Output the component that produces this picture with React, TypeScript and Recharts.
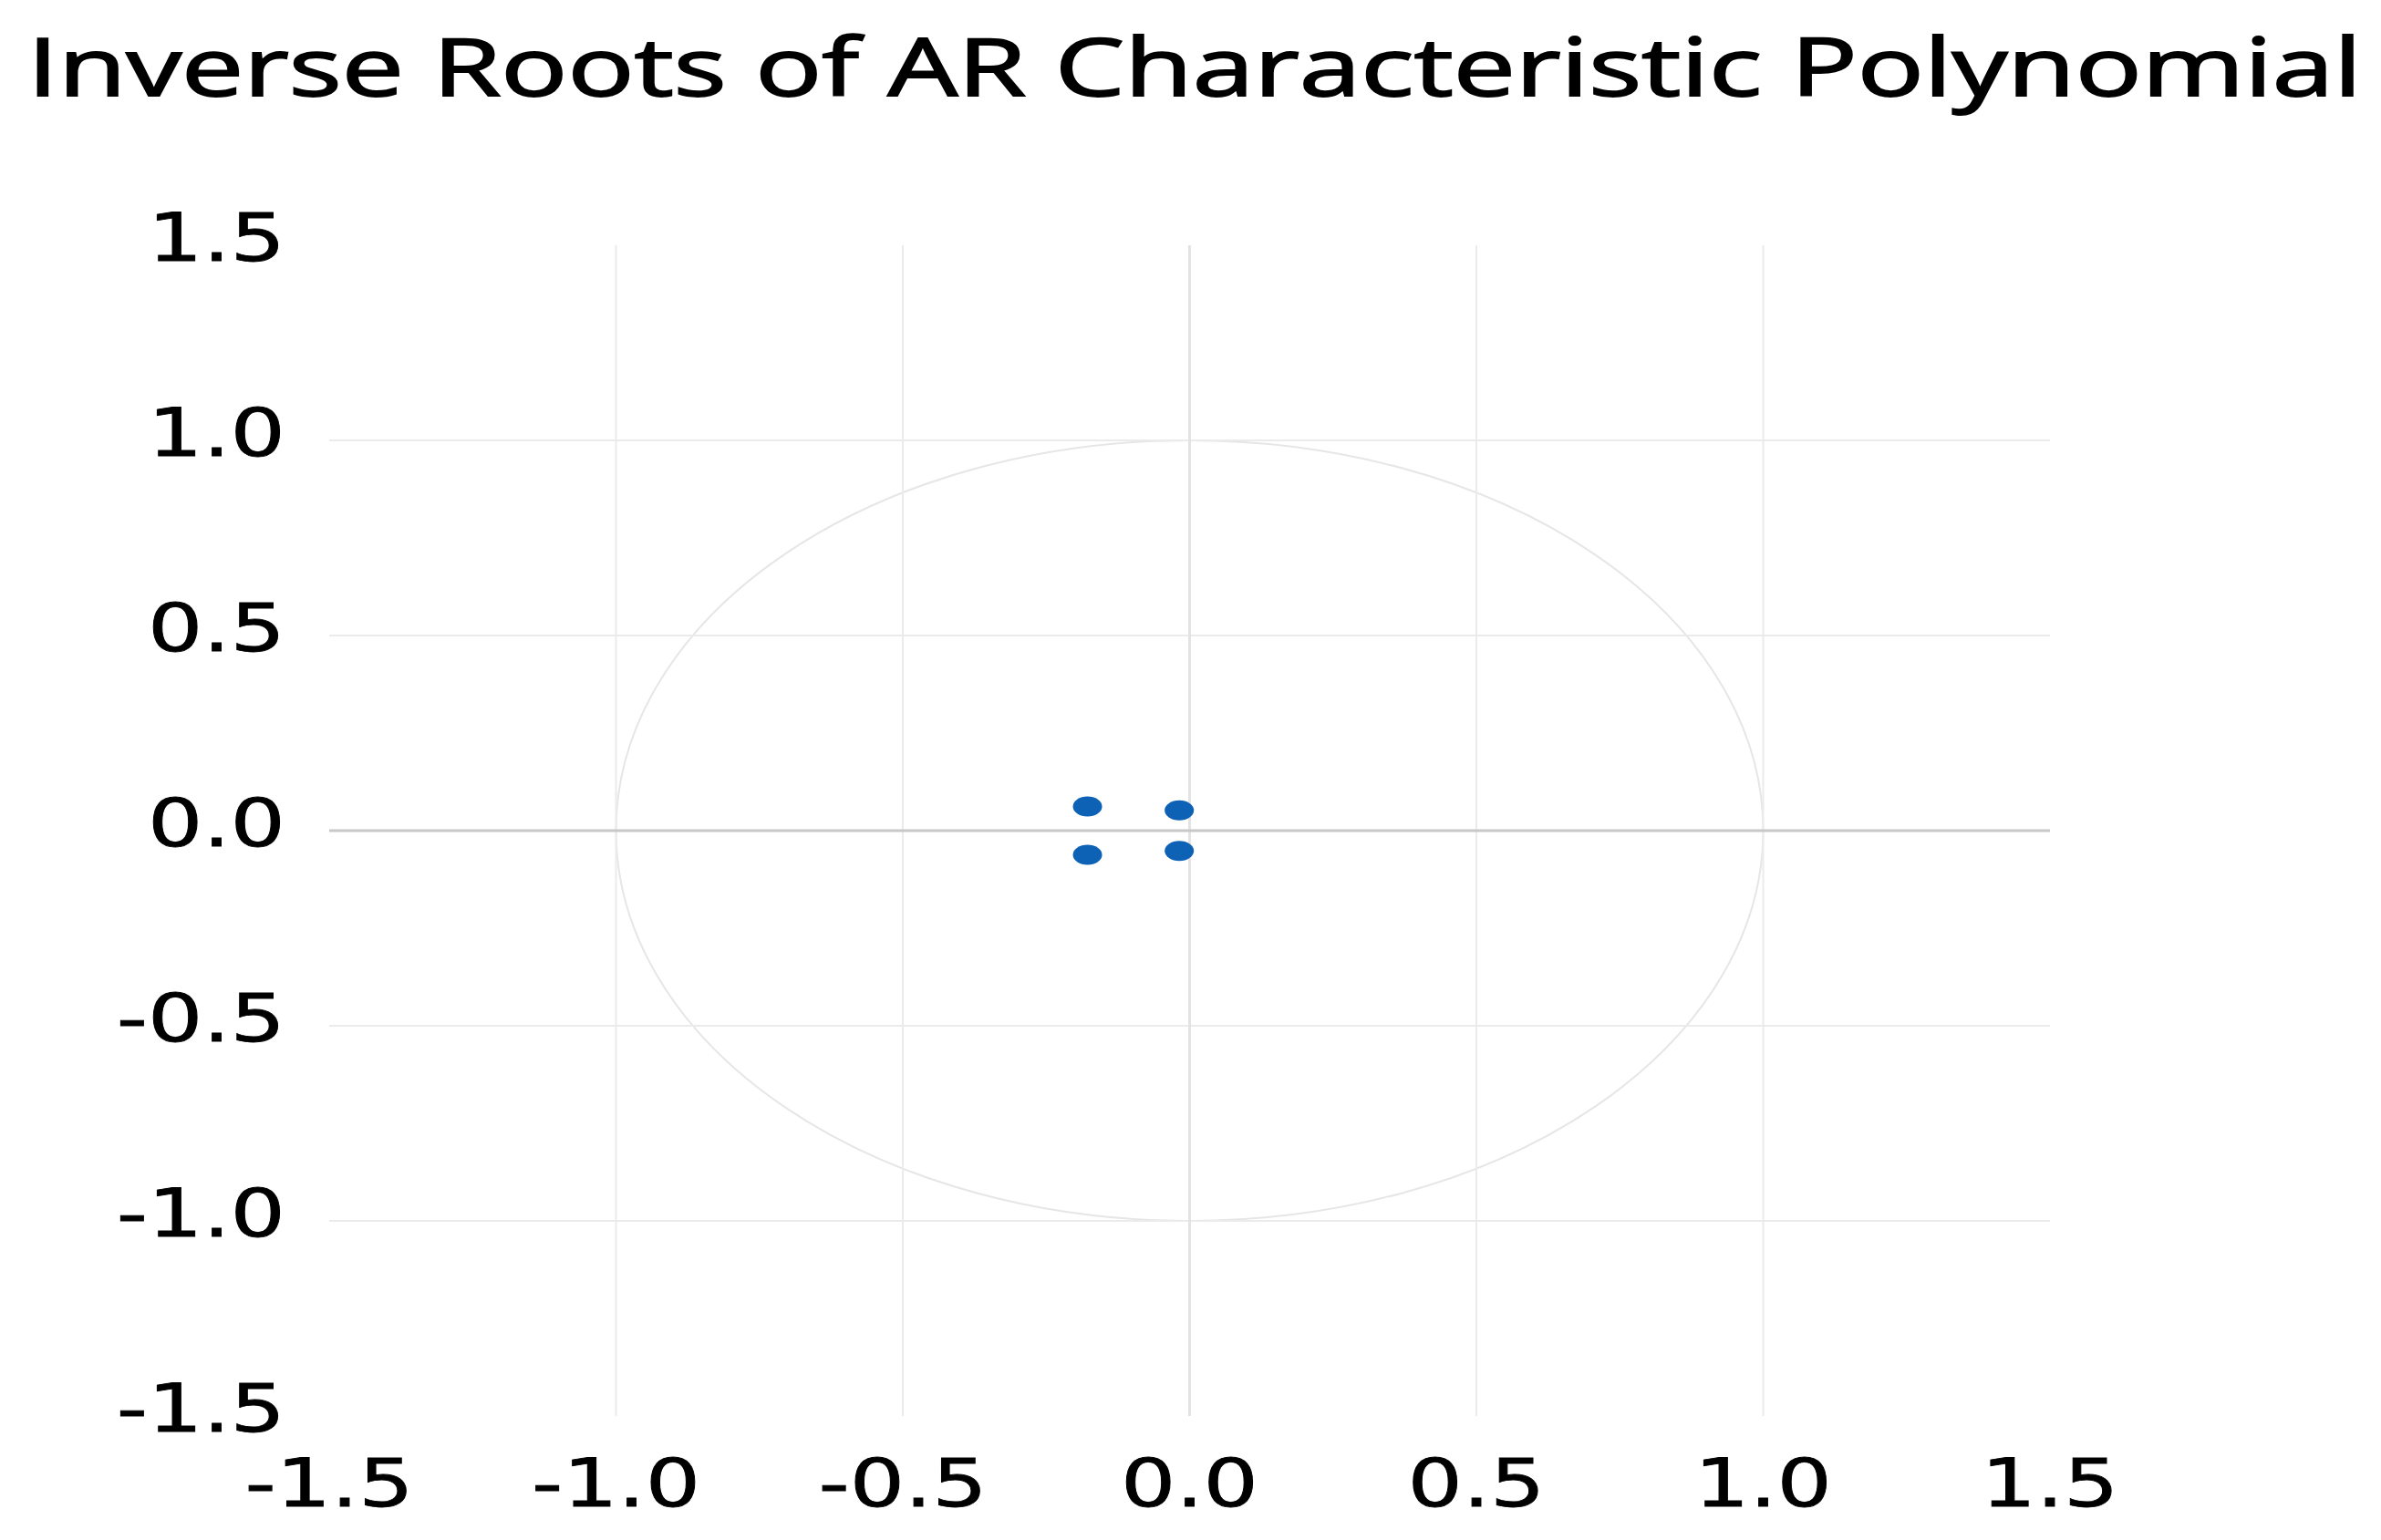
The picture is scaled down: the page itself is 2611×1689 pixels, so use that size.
import React from 'react';
import {
  ScatterChart,
  Scatter,
  XAxis,
  YAxis,
  ReferenceLine,
  ReferenceArea,
} from 'recharts';

// inverse roots (real / imaginary parts)
const rootRe = [-0.178, -0.178, -0.018, -0.018];
const rootIm = [0.062, -0.062, 0.052, -0.052];

const axisTicks = [-1.5, -1.0, -0.5, 0.0, 0.5, 1.0, 1.5];
const gridValues = [-1.0, -0.5, 0.5, 1.0];
const unitCircle = { x1: -1, x2: 1, y1: -1, y2: 1 };

const TITLE = 'Inverse Roots of AR Characteristic Polynomial';

const W = 2611;
const H = 1689;

const points = rootRe.map((re, i) => ({ x: re, y: rootIm[i] }));

function XTick({ x, y, payload }: any) {
  return (
    <text
      transform={`translate(${x},${y + 99}) scale(1.3,1)`}
      textAnchor="middle"
      fontFamily="DejaVu Sans"
      fontSize={73}
      fill="#000"
      stroke="#000"
      strokeWidth={0.8}
    >
      {payload.value.toFixed(1)}
    </text>
  );
}

function YTick({ x, y, payload }: any) {
  return (
    <text
      transform={`translate(${x},${y + 17}) scale(1.3,1)`}
      textAnchor="end"
      fontFamily="DejaVu Sans"
      fontSize={73}
      fill="#000"
      stroke="#000"
      strokeWidth={0.8}
    >
      {payload.value.toFixed(1)}
    </text>
  );
}

function Dot({ cx, cy }: any) {
  return <ellipse cx={cx} cy={cy} rx={16} ry={11} fill="#0d62b6" />;
}

function Circle({ x, y, width, height }: any) {
  return (
    <ellipse
      cx={x + width / 2}
      cy={y + height / 2}
      rx={width / 2}
      ry={height / 2}
      fill="none"
      stroke="#e6e6e6"
      strokeWidth={2}
    />
  );
}

export default function App() {
  return (
    <div style={{ position: 'absolute', left: 0, top: 0, width: W, height: H, background: '#fff' }}>
      <svg width={W} height={130} style={{ position: 'absolute', left: 0, top: 0 }}>
        <text
          x={30}
          y={105}
          fontFamily="Open Sans"
          fontSize={88}
          fill="#000"
          stroke="#000"
          strokeWidth={1.8}
          textLength={2560}
          lengthAdjust="spacingAndGlyphs"
        >
          {TITLE}
        </text>
      </svg>
      <ScatterChart
        width={W}
        height={H}
        margin={{ top: 269, right: 363, bottom: 0, left: 0 }}
      >
        <XAxis
          type="number"
          dataKey="x"
          domain={[-1.5, 1.5]}
          ticks={axisTicks}
          axisLine={false}
          tickLine={false}
          tickSize={0}
          tickMargin={0}
          height={136}
          tick={<XTick />}
          interval={0}
        />
        <YAxis
          type="number"
          dataKey="y"
          domain={[-1.5, 1.5]}
          ticks={axisTicks}
          axisLine={false}
          tickLine={false}
          tickSize={0}
          tickMargin={48}
          width={361}
          tick={<YTick />}
          interval={0}
        />
        {gridValues.map((v) => (
          <ReferenceLine key={'v' + v} x={v} stroke="#ebebeb" strokeWidth={2} />
        ))}
        {gridValues.map((v) => (
          <ReferenceLine key={'h' + v} y={v} stroke="#ebebeb" strokeWidth={2} />
        ))}
        <ReferenceLine x={0} stroke="#e3e3e3" strokeWidth={3} />
        <ReferenceArea
          x1={unitCircle.x1}
          x2={unitCircle.x2}
          y1={unitCircle.y1}
          y2={unitCircle.y2}
          ifOverflow="visible"
          shape={<Circle />}
        />
        <ReferenceLine y={0} stroke="#c8c8c8" strokeWidth={3} />
        <Scatter data={points} shape={<Dot />} isAnimationActive={false} />
      </ScatterChart>
    </div>
  );
}
